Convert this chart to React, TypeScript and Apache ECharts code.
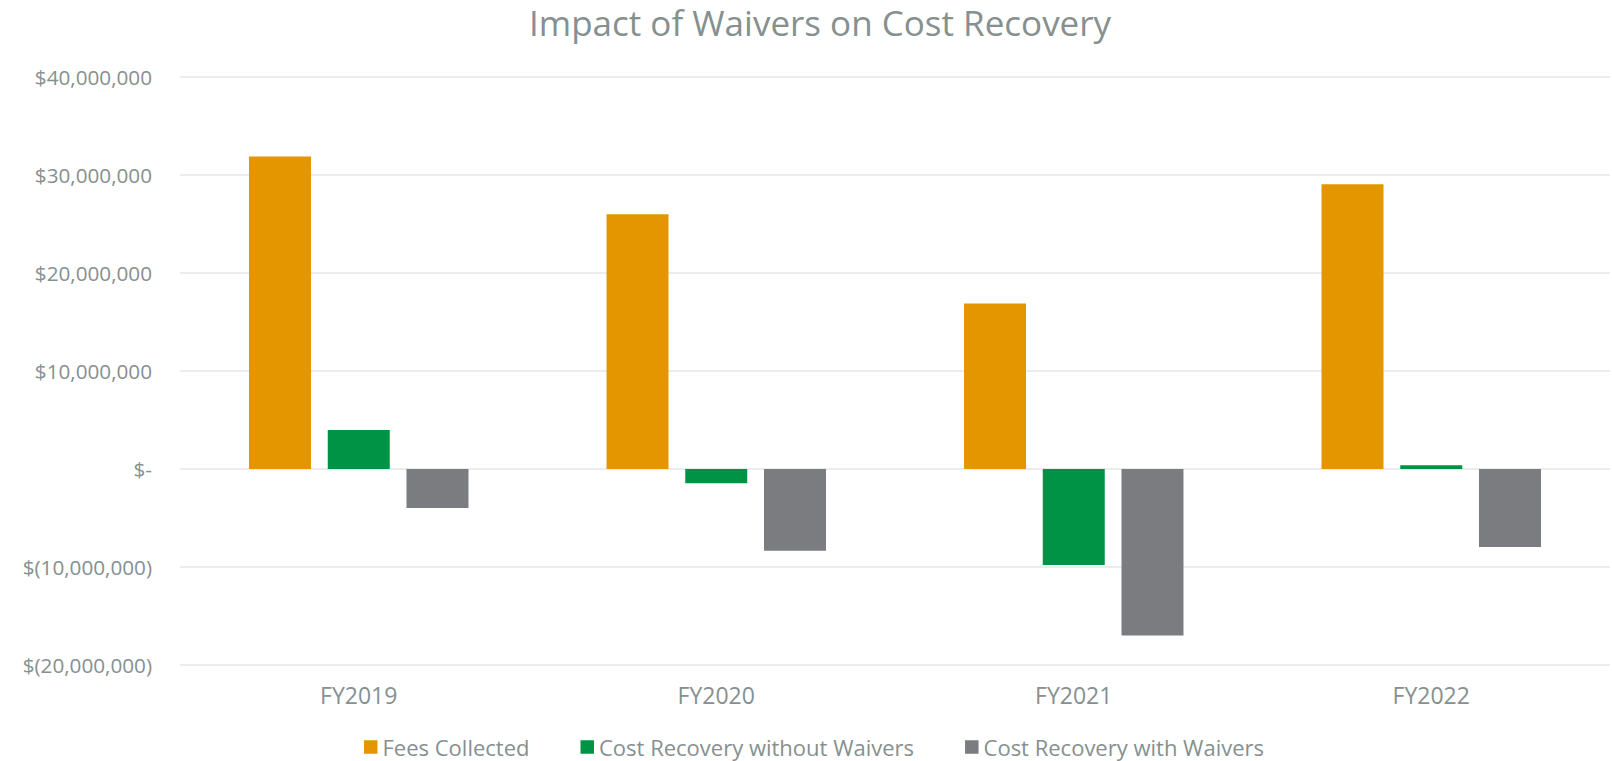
import React, { useEffect, useRef } from "react";
import * as echarts from "echarts";

const categories = ["FY2019", "FY2020", "FY2021", "FY2022"];
const feesCollected = [31900000, 26000000, 16900000, 29050000];
const costRecoveryWithout = [3980000, -1450000, -9800000, 370000];
const costRecoveryWith = [-3980000, -8340000, -17000000, -7960000];
const seriesNames = ["Fees Collected", "Cost Recovery without Waivers", "Cost Recovery with Waivers"];
const seriesColors = ["#E39600", "#009245", "#7B7C80"];

const FONT = "'Open Sans', sans-serif";
const TEXT = "#86908F";

function fmt(v: number): string {
  if (v === 0) return "$-";
  const s = Math.abs(v).toLocaleString("en-US");
  return v < 0 ? `$(${s})` : `$${s}`;
}

export default function App() {
  const ref = useRef<HTMLDivElement>(null);
  useEffect(() => {
    if (!ref.current) return;
    const chart = echarts.init(ref.current, undefined, { renderer: "svg" });
    const data = [feesCollected, costRecoveryWithout, costRecoveryWith];
    chart.setOption({
      animation: false,
      title: {
        text: "Impact of Waivers on Cost Recovery",
        left: 524,
        top: 0,
        textStyle: { fontFamily: FONT, fontSize: 35, fontWeight: "normal", color: TEXT },
      },
      legend: {
        top: 734,
        left: 364,
        padding: 0,
        icon: "rect",
        itemWidth: 13.5,
        itemHeight: 13.5,
        itemGap: 51,
        textStyle: { fontFamily: FONT, fontSize: 22, color: TEXT, lineHeight: 26 },
        data: seriesNames,
      },
      grid: { left: 180, right: 2, top: 77, bottom: 96, containLabel: false },
      xAxis: {
        type: "category",
        data: categories,
        axisLine: { show: false, onZero: false },
        axisTick: { show: false },
        axisLabel: { fontFamily: FONT, fontSize: 23, color: TEXT, margin: 18 },
      },
      yAxis: {
        type: "value",
        min: -20000000,
        max: 40000000,
        interval: 10000000,
        axisLabel: { fontFamily: FONT, fontSize: 20.7, color: TEXT, margin: 28, formatter: fmt },
        splitLine: { lineStyle: { color: "#E4E7E7", width: 1.5 } },
      },
      series: seriesNames.map((name, i) => ({
        name,
        type: "bar",
        data: data[i],
        barWidth: 62,
        barGap: "27%",
        itemStyle: { color: seriesColors[i] },
      })),
    });
    return () => chart.dispose();
  }, []);
  return (
    <div
      ref={ref}
      style={{ position: "fixed", left: 0, top: 0, width: 1612, height: 761, background: "#fff" }}
    />
  );
}
